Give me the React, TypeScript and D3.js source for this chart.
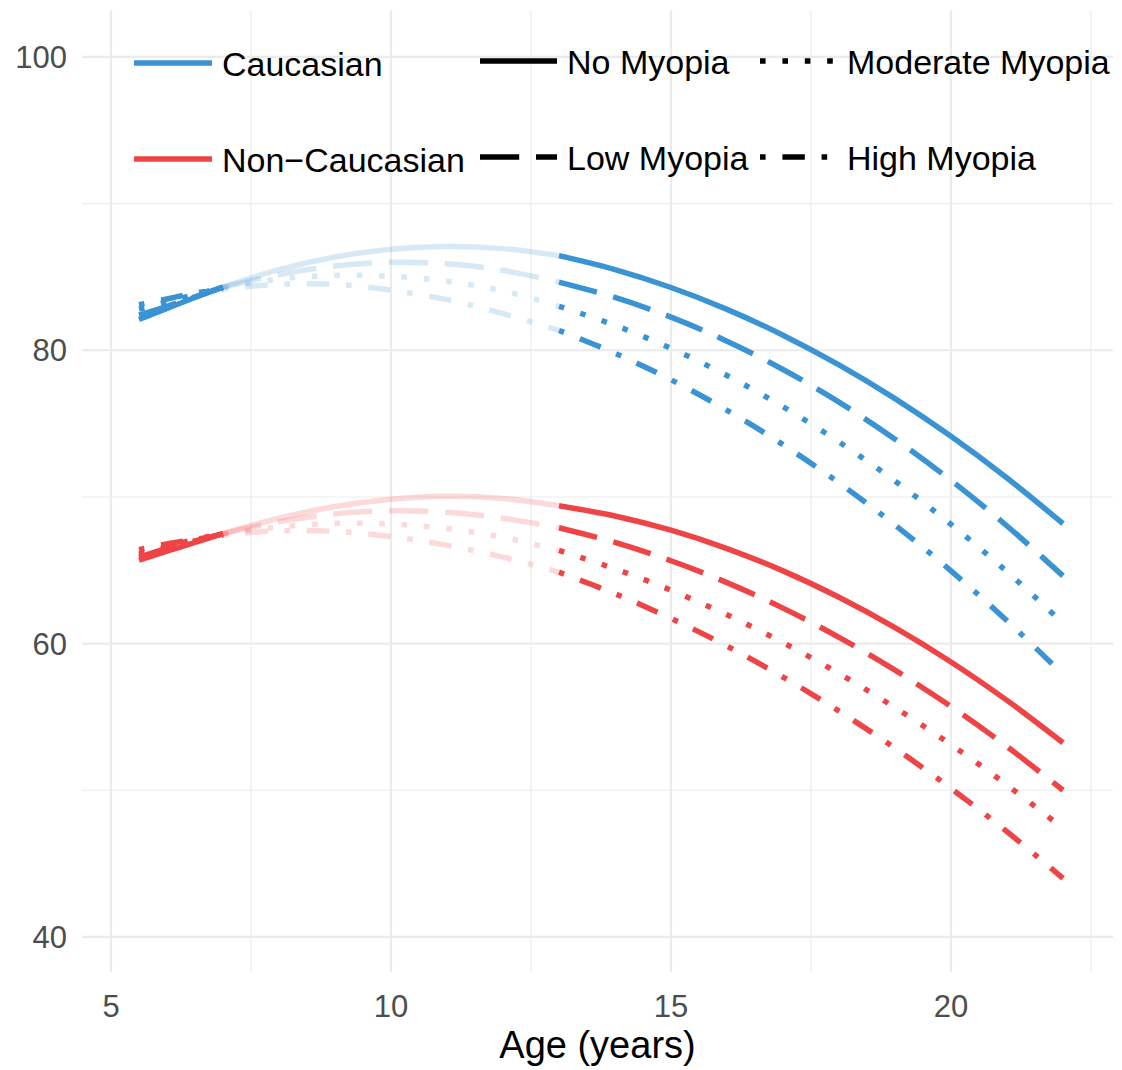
import React, { useEffect } from "react";
import * as d3 from "d3";

const ages = [5.5, 6, 6.5, 7, 8, 9, 10, 11, 12, 13, 14, 15, 16, 17, 18, 19, 20, 21, 22];

const groups = ["Caucasian", "Non\u2212Caucasian"];
const myopiaLevels = ["No Myopia", "Low Myopia", "Moderate Myopia", "High Myopia"];

const caucasianNo = [82.1, 82.85, 83.6, 84.3, 85.5, 86.36, 86.89, 87.08, 86.93, 86.45, 85.5, 84.28, 82.79, 81.03, 79.0, 76.7, 74.13, 71.29, 68.18];
const caucasianLow = [82.4, 83.0, 83.65, 84.3, 85.15, 85.75, 86.0, 85.9, 85.45, 84.65, 83.6, 82.26, 80.62, 78.69, 76.46, 73.94, 71.13, 68.02, 64.62];
const caucasianModerate = [82.8, 83.3, 83.8, 84.3, 84.85, 85.1, 85.05, 84.7, 84.05, 83.0, 81.7, 80.13, 78.28, 76.15, 73.75, 71.08, 68.13, 64.9, 61.4];
const caucasianHigh = [83.1, 83.5, 83.9, 84.2, 84.5, 84.5, 84.1, 83.45, 82.5, 81.35, 79.8, 77.99, 75.91, 73.57, 70.96, 68.09, 64.96, 61.56, 57.9];

const nonCaucasianNo = [65.7, 66.3, 66.9, 67.5, 68.55, 69.35, 69.85, 70.05, 69.9, 69.4, 68.7, 67.73, 66.48, 64.96, 63.16, 61.09, 58.75, 56.13, 53.24];
const nonCaucasianLow = [65.9, 66.5, 67.0, 67.5, 68.3, 68.85, 69.05, 68.95, 68.55, 67.9, 66.9, 65.65, 64.16, 62.42, 60.43, 58.19, 55.71, 52.98, 50.0];
const nonCaucasianModerate = [66.1, 66.6, 67.1, 67.5, 67.95, 68.2, 68.15, 67.85, 67.25, 66.35, 65.1, 63.64, 61.96, 60.07, 57.96, 55.64, 53.11, 50.36, 47.4];
const nonCaucasianHigh = [66.4, 66.8, 67.1, 67.4, 67.7, 67.65, 67.3, 66.7, 65.9, 64.87, 63.4, 61.72, 59.83, 57.72, 55.4, 52.87, 50.13, 47.18, 44.0];

// age ranges of the three drawn pieces (middle one is faded)
const segmentBreaks = [5.5, 7, 13, 22];

const xTicks = [5, 10, 15, 20];
const xMinorTicks = [7.5, 12.5, 17.5, 22.5];
const yTicks = [40, 60, 80, 100];
const yMinorTicks = [50, 70, 90];

const W = 1122;
const H = 1070;
const panel = { left: 82, right: 1113, top: 10, bottom: 972 };

const groupColors = ["#3A93D3", "#EF4446"];
const segmentOpacity = [1, 0.2, 1];
const lw = 5.5;
const u = 5.6;
const dashes = ["", `${7 * u} ${3 * u}`, `${u} ${3 * u}`, `${u} ${3 * u} ${4 * u} ${3 * u}`];
const font = "'Liberation Sans', Arial, Helvetica, sans-serif";

const seriesByGroup = [
    [caucasianNo, caucasianLow, caucasianModerate, caucasianHigh],
    [nonCaucasianNo, nonCaucasianLow, nonCaucasianModerate, nonCaucasianHigh],
];

export default function App() {
    useEffect(() => {
        document.body.style.margin = "0";
    }, []);

    const x = d3.scaleLinear([4.482, 22.893], [panel.left, panel.right]);
    const y = d3.scaleLinear([37.61, 103.2], [panel.bottom, panel.top]);

    const line = d3.line<[number, number]>()
        .x(d => x(d[0]))
        .y(d => y(d[1]))
        .curve(d3.curveCatmullRom.alpha(0.5));

    const paths: JSX.Element[] = [];
    seriesByGroup.forEach((series, gi) => {
        series.forEach((vals, li) => {
            for (let s = 0; s < segmentBreaks.length - 1; s++) {
                const lo = segmentBreaks[s];
                const hi = segmentBreaks[s + 1];
                const pts: [number, number][] = [];
                ages.forEach((a, i) => {
                    if (a >= lo && a <= hi) pts.push([a, vals[i]]);
                });
                paths.push(
                    <path key={`${gi}-${li}-${s}`} d={line(pts)!} fill="none"
                        stroke={groupColors[gi]} strokeOpacity={segmentOpacity[s]}
                        strokeWidth={lw} strokeDasharray={dashes[li] || undefined}
                        strokeLinecap="butt" />
                );
            }
        });
    });

    const gridColor = "#EBEBEB";

    return (
        <svg width={W} height={H} style={{ display: "block", background: "white" }} fontFamily={font}>
            {/* grid */}
            <g>
                {yMinorTicks.map(t => (
                    <line key={"ym" + t} x1={panel.left} x2={panel.right} y1={y(t)} y2={y(t)} stroke={gridColor} strokeWidth={1.1} />
                ))}
                {xMinorTicks.map(t => (
                    <line key={"xm" + t} x1={x(t)} x2={x(t)} y1={panel.top} y2={panel.bottom} stroke={gridColor} strokeWidth={1.1} />
                ))}
                {yTicks.map(t => (
                    <line key={"y" + t} x1={panel.left} x2={panel.right} y1={y(t)} y2={y(t)} stroke={gridColor} strokeWidth={2.2} />
                ))}
                {xTicks.map(t => (
                    <line key={"x" + t} x1={x(t)} x2={x(t)} y1={panel.top} y2={panel.bottom} stroke={gridColor} strokeWidth={2.2} />
                ))}
            </g>

            <g>{paths}</g>

            {/* axes text */}
            <g fill="#4D4D4D" fontSize={31}>
                {yTicks.map(t => (
                    <text key={"yl" + t} x={panel.left - 15} y={y(t) + 11} textAnchor="end">{t}</text>
                ))}
                {xTicks.map(t => (
                    <text key={"xl" + t} x={x(t)} y={1017} textAnchor="middle">{t}</text>
                ))}
            </g>
            <text x={(panel.left + panel.right) / 2} y={1058} textAnchor="middle" fontSize={38} fill="black">Age (years)</text>

            {/* colour legend */}
            <g fontSize={34}>
                {groups.map((g, i) => {
                    const ky = 63 + i * 96;
                    return (
                        <g key={g}>
                            <line x1={134} x2={212} y1={ky} y2={ky} stroke={groupColors[i]} strokeWidth={lw} />
                            <text x={222} y={ky + 12.5} fill="black">{g}</text>
                        </g>
                    );
                })}
            </g>

            {/* linetype legend, two columns */}
            <g fontSize={34}>
                {myopiaLevels.map((m, i) => {
                    const col = Math.floor(i / 2);
                    const row = i % 2;
                    const kx = 480 + col * 280;
                    const ky = 61 + row * 96;
                    return (
                        <g key={m}>
                            <line x1={kx} x2={kx + 77} y1={ky} y2={ky} stroke="black" strokeWidth={lw}
                                strokeDasharray={dashes[i] || undefined} />
                            <text x={kx + 87} y={ky + 12.5} fill="black">{m}</text>
                        </g>
                    );
                })}
            </g>
        </svg>
    );
}
